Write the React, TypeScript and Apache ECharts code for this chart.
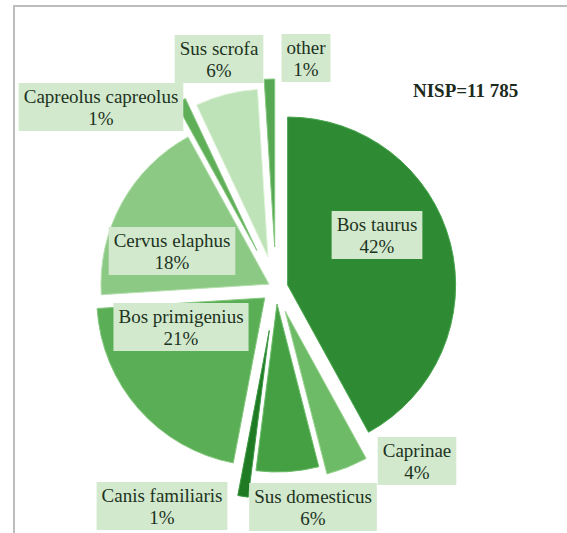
import React, { useEffect, useRef } from 'react';
import * as echarts from 'echarts';

// ---- data ----
const categories = [
  'Bos taurus',
  'Caprinae',
  'Sus domesticus',
  'Canis familiaris',
  'Bos primigenius',
  'Cervus elaphus',
  'Capreolus capreolus',
  'Sus scrofa',
  'other',
];
const percents = [42, 4, 6, 1, 21, 18, 1, 6, 1];
const nispTotal = '11 785';

// ---- styling / layout ----
const sliceColors = [
  '#2e8b34',
  '#6dbb66',
  '#45a044',
  '#1f7a24',
  '#5aae55',
  '#8cc985',
  '#5fae58',
  '#bfe3b8',
  '#56a852',
];
const sliceBorders = [
  '#4aa64f',
  '#98d390',
  '#6cbc68',
  '#3f9a44',
  '#86c880',
  '#b5dfae',
  '#8cc985',
  '#e2f4dd',
  '#86c880',
];
const pieCenter = [276, 288];
const pieRadius = 168;
const explode = [12, 25, 16, 43, 15, 8, 42, 32, 41];
const labelAnchors: number[][] = [
  [377, 235],
  [417, 461],
  [313, 507],
  [162, 506],
  [181, 327],
  [172, 251],
  [101, 107],
  [219, 59],
  [306, 58],
];

export default function App() {
  const ref = useRef<HTMLDivElement>(null);
  useEffect(() => {
    if (!ref.current) return;
    const chart = echarts.init(ref.current, null, { renderer: 'svg' });
    const total = percents.reduce((a, b) => a + b, 0);
    let cum = 0;
    const series = categories.map((_, i) => {
      const midFrac = (cum + percents[i] / 2) / total;
      cum += percents[i];
      const ang = ((90 - 360 * midFrac) * Math.PI) / 180;
      const cx = pieCenter[0] + explode[i] * Math.cos(ang);
      const cy = pieCenter[1] - explode[i] * Math.sin(ang);
      return {
        type: 'pie',
        center: [cx, cy],
        radius: [0, pieRadius],
        startAngle: 90,
        clockwise: true,
        avoidLabelOverlap: false,
        silent: true,
        emphasis: { disabled: true },
        labelLine: { show: false },
        labelLayout: {
          x: labelAnchors[i][0],
          y: labelAnchors[i][1],
          align: 'center',
          verticalAlign: 'middle',
        },
        data: categories.map((name, j) => ({
          name,
          value: percents[j],
          itemStyle:
            j === i
              ? { color: sliceColors[j], borderColor: sliceBorders[j], borderWidth: 1 }
              : { color: 'transparent', borderWidth: 0 },
          label: {
            show: j === i,
            position: 'inside',
            formatter: '{b}\n{c}%',
            fontFamily: "'Liberation Serif', serif",
            fontSize: 19,
            lineHeight: 22,
            color: '#1d331d',
            backgroundColor: '#d2e9ce',
            padding: [2, 5],
          },
        })),
      };
    });
    chart.setOption({
      animation: false,
      backgroundColor: '#ffffff',
      graphic: [
        {
          type: 'line',
          shape: { x1: 14, y1: 6, x2: 14, y2: 533 },
          style: { stroke: '#bdbdbd', lineWidth: 2 },
        },
        {
          type: 'line',
          shape: { x1: 13, y1: 6, x2: 567, y2: 6 },
          style: { stroke: '#bdbdbd', lineWidth: 2 },
        },
        {
          type: 'text',
          left: 413,
          top: 81,
          style: {
            text: 'NISP=' + nispTotal,
            font: 'bold 19px "Liberation Serif"',
            fill: '#1c2a1c',
          },
        },
      ],
      series,
    });
    return () => chart.dispose();
  }, []);
  return (
    <div
      ref={ref}
      style={{ position: 'absolute', left: 0, top: 0, width: 567, height: 533 }}
    />
  );
}
